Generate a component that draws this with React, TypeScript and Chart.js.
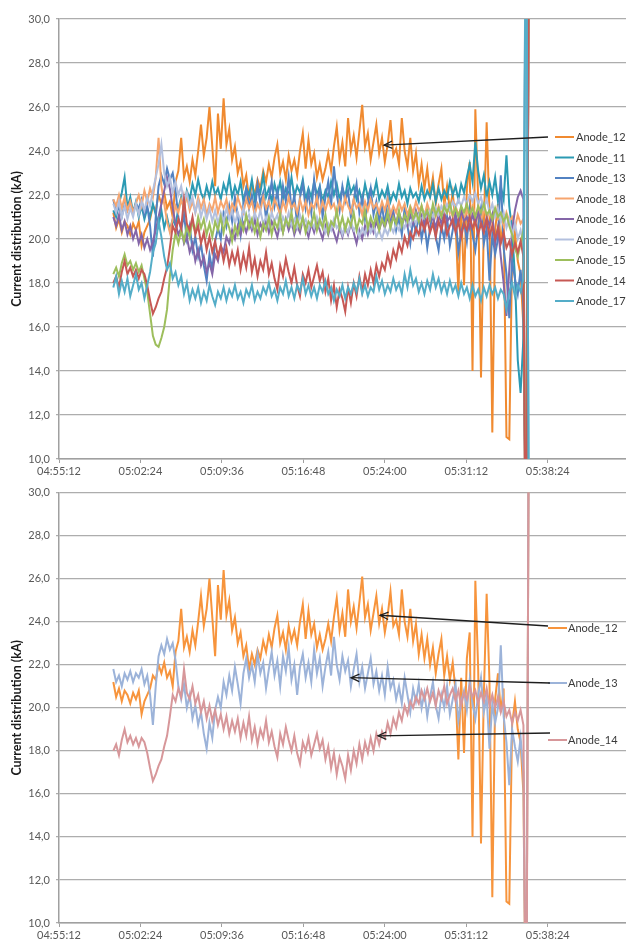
import React, { useEffect, useRef } from 'react';
import { Chart, registerables } from 'chart.js';

Chart.register(...registerables);
Chart.defaults.font.family = 'Lato, "Open Sans", sans-serif';

// ---------- axes / labels ----------
const X_TICK_LABELS = ['04:55:12', '05:02:24', '05:09:36', '05:16:48', '05:24:00', '05:31:12', '05:38:24'];
const X_AXIS_END = '05:45:19';
const SAMPLE_START = '05:00:00';
const SAMPLE_STEP_S = 15;
const Y_MIN = 10;
const Y_MAX = 30;
const Y_STEP = 2;
const Y_TITLE = 'Current distribution (kA)';

// ---------- series values (kA), one sample every 15 s from 05:00:00 ----------
const anode12 = [
  21.2, 20.5, 20.9, 20.3, 20.8, 20.6, 20.2, 20.7, 20.4, 20.8,
  19.7, 20.3, 20.6, 20.9, 21.5, 21.3, 22.0, 21.6, 22.1, 21.4,
  21.7, 21.0, 22.6, 23.1, 24.6, 22.8, 23.3, 22.6, 23.6, 22.9,
  24.0, 25.2, 23.8, 24.6, 26.0, 24.2, 22.4, 25.7, 24.1, 26.4,
  24.3, 25.0, 23.6, 24.2, 23.0, 23.5, 22.4, 22.9, 21.8, 22.5,
  22.0, 22.7, 22.3, 23.1, 22.6, 23.4, 22.8, 23.7, 24.3, 23.0,
  23.5, 22.7, 23.8, 23.1, 23.6, 22.9, 24.0, 24.8, 23.2, 24.5,
  23.4, 23.9, 22.8, 23.4, 22.7, 23.2, 23.9, 23.1, 24.2, 25.1,
  23.6, 24.4, 23.3, 25.5, 24.0, 24.7, 23.7, 24.9, 26.1, 24.2,
  24.8, 23.6, 24.4, 25.2, 23.9, 24.6, 23.5, 24.3, 25.4, 23.8,
  24.1, 23.4, 25.5, 24.0, 23.3, 24.6, 23.1, 23.9, 22.5, 23.4,
  22.3, 23.2, 22.0, 22.8, 21.6, 22.5, 23.2, 21.5, 22.4, 21.3,
  22.1, 20.8, 17.6, 21.4, 17.9, 22.3, 23.5, 14.0, 25.9, 21.8,
  13.7, 20.6, 25.3, 21.2, 11.2, 20.4, 21.6, 19.8, 20.9, 11.0,
  10.9, 19.2, 20.3, 19.0, 18.4, 16.0, 3, 38,
];
const anode11 = [
  21.3, 21.0, 21.6, 22.1, 22.8, 21.4, 21.9, 21.2, 21.7, 21.0,
  21.5, 20.9, 21.4, 21.0, 21.6, 21.1, 20.6, 21.3, 20.5, 21.0,
  20.4, 20.9, 20.6, 21.4, 21.9, 21.3, 22.2, 21.8, 22.5, 22.0,
  22.7, 22.1, 21.8, 22.4, 21.9, 22.6, 22.0, 22.3, 21.8, 22.5,
  22.1, 22.8, 21.9, 22.4, 22.0, 22.6, 21.7, 22.3, 22.0, 22.7,
  21.8, 22.4, 22.1, 22.9, 21.9, 22.3, 21.7, 22.5, 22.0, 22.6,
  21.8, 22.3, 22.0, 22.8, 21.9, 22.4, 22.1, 22.7, 21.8, 22.3,
  21.9, 22.6, 22.0, 22.4, 21.7, 22.2, 21.9, 22.6, 22.0, 22.5,
  21.8, 22.3, 21.9, 22.7, 22.1, 22.4, 21.8, 22.2, 21.7, 22.5,
  21.9, 22.3, 22.0, 22.6, 21.8, 22.2, 21.9, 22.4, 21.7, 22.1,
  21.8, 22.5, 21.9, 22.2, 21.6, 22.3, 21.9, 22.1, 21.7, 22.4,
  21.8, 22.2, 21.9, 22.5, 21.7, 22.3, 21.8, 22.2, 21.9, 22.6,
  22.0, 22.4, 21.8, 22.5, 22.1, 22.8, 23.4, 22.6, 24.4, 23.1,
  22.3, 22.9, 21.9, 22.6, 22.0, 22.8, 21.7, 22.4, 21.8, 23.8,
  21.5, 20.4, 18.3, 14.5, 13.0, 15.5, 38, 2,
];
const anode13 = [
  21.8, 21.2, 21.5, 21.0, 21.6, 21.3, 21.7, 21.2, 21.6, 21.4,
  21.8, 21.1, 21.5, 20.6, 19.2, 21.0, 22.4, 22.9, 22.5, 23.2,
  22.7, 23.0, 22.2, 21.0, 20.4, 21.1, 20.0, 20.6, 19.5, 20.1,
  19.2, 19.8, 18.8, 18.1, 19.3, 18.6, 19.9, 20.5, 20.0, 21.2,
  20.6, 21.5, 20.8, 21.9, 21.1, 20.2, 21.6, 22.3, 21.4, 22.0,
  21.2, 22.5, 21.6, 22.1, 20.9, 21.8, 22.6, 21.5, 22.2, 21.0,
  22.4, 21.7, 22.8, 21.3, 22.0, 20.6, 21.9, 22.5, 21.4, 22.1,
  21.2, 22.7, 21.6, 22.3, 21.0, 21.9, 22.6, 21.5, 23.3, 22.0,
  21.3, 22.4, 21.7, 22.2, 21.0, 21.8, 22.5, 21.2, 21.9, 20.9,
  21.6, 22.3, 21.1, 21.7, 20.8, 21.5, 20.6, 21.9, 20.9, 21.3,
  20.4, 21.0, 20.2, 21.4, 20.6, 19.8, 20.9, 20.3, 21.1, 20.0,
  20.7, 19.6, 20.5, 21.2, 20.1, 19.5, 20.6, 20.0, 21.0, 19.7,
  20.4, 21.1, 19.4, 20.3, 20.8, 19.9, 21.3, 20.2, 19.5, 20.6,
  21.4, 19.8, 20.5, 18.1, 20.2, 19.3, 20.0, 22.9, 19.6, 18.4,
  16.4, 19.0, 18.2, 17.5, 18.6, 17.0, 3, 38,
];
const anode18 = [
  21.8, 21.5, 22.0, 21.4, 21.9, 21.3, 21.7, 21.2, 21.6, 22.0,
  21.5, 22.2, 21.7, 22.3, 21.9, 22.8, 24.6, 22.4, 21.6, 20.8,
  20.3, 20.9, 21.5, 21.2, 21.8, 21.4, 22.0, 21.3, 21.7, 21.2,
  21.9, 21.4, 21.8, 21.1, 21.6, 21.3, 21.9, 21.2, 21.7, 21.4,
  21.8, 21.1, 21.6, 21.3, 21.9, 21.5, 21.2, 21.8, 21.4, 21.7,
  21.1, 21.6, 21.3, 21.9, 21.4, 21.7, 21.2, 21.8, 21.5, 21.1,
  21.7, 21.3, 21.9, 21.4, 21.6, 21.2, 21.8, 21.3, 21.7, 21.1,
  21.6, 21.4, 21.9, 21.2, 21.7, 21.3, 21.8, 21.4, 21.6, 21.1,
  21.7, 21.3, 21.9, 21.5, 21.2, 21.8, 21.4, 21.6, 21.1, 21.7,
  21.3, 21.8, 21.4, 21.6, 21.2, 21.7, 21.3, 21.8, 21.1, 21.5,
  21.2, 21.7, 21.3, 21.6, 21.1, 21.5, 21.2, 21.7, 21.3, 21.5,
  21.0, 21.6, 21.2, 21.4, 21.0, 21.5, 21.1, 21.6, 21.2, 21.4,
  21.0, 21.5, 21.1, 21.4, 20.9, 21.3, 21.0, 21.5, 21.1, 21.3,
  20.8, 21.4, 21.0, 21.2, 20.7, 21.3, 20.9, 21.1, 20.6, 21.2,
  20.8, 21.0, 20.5, 21.1, 20.7, 20.9, 3, 38,
];
const anode16 = [
  21.0, 20.6, 21.1, 20.4, 20.8, 20.2, 20.6, 20.0, 20.4, 19.8,
  20.2, 19.6, 20.0, 19.5, 19.9, 20.4, 21.0, 21.6, 22.2, 22.8,
  22.3, 21.4, 20.7, 20.2, 20.5, 19.8, 20.1, 19.4, 19.8, 19.0,
  19.5, 18.8, 19.2, 18.5, 18.9, 18.4, 19.3, 19.0, 19.7, 19.4,
  20.1, 19.8, 20.4, 20.0, 20.6, 20.2, 20.7, 20.3, 20.8, 20.4,
  20.9, 20.2, 20.7, 20.4, 20.9, 20.3, 20.8, 20.5, 20.1, 20.7,
  20.3, 20.9, 20.4, 20.8, 20.2, 20.6, 20.3, 20.9, 20.5, 20.1,
  20.7, 20.3, 20.8, 20.4, 20.0, 20.6, 20.2, 20.7, 20.3, 19.9,
  20.5, 20.1, 20.6, 20.2, 20.7, 20.3, 19.8, 20.4, 20.0, 20.6,
  20.2, 20.7, 20.3, 20.8, 20.4, 20.9, 20.5, 21.0, 20.6, 21.1,
  20.7, 21.2, 20.8, 21.0, 20.6, 21.1, 20.7, 21.3, 20.9, 21.1,
  20.6, 21.2, 20.8, 21.0, 20.5, 21.1, 20.7, 21.2, 20.8, 21.0,
  20.6, 21.1, 20.7, 21.3, 20.8, 21.0, 20.5, 21.1, 20.7, 21.2,
  20.8, 20.4, 21.0, 20.6, 21.1, 19.8, 20.5, 19.2, 18.0, 16.5,
  18.6, 20.4, 21.3, 21.9, 22.2, 21.8, 2, 38,
];
const anode19 = [
  21.6, 21.2, 21.7, 21.0, 21.5, 20.9, 21.4, 21.0, 21.6, 21.1,
  21.7, 21.3, 21.9, 21.5, 22.2, 22.8, 23.4, 24.3, 23.0, 22.4,
  22.8, 22.1, 22.6, 22.0, 22.4, 21.7, 22.1, 21.5, 21.9, 21.2,
  21.7, 21.0, 21.5, 20.9, 21.4, 20.8, 21.3, 20.7, 21.2, 20.8,
  21.4, 20.9, 21.3, 20.7, 21.2, 20.8, 21.4, 20.9, 21.1, 20.6,
  21.2, 20.8, 21.3, 20.7, 21.0, 20.6, 21.2, 20.8, 21.1, 20.5,
  21.0, 20.7, 21.2, 20.6, 20.9, 20.5, 21.1, 20.7, 20.9, 20.4,
  20.8, 20.5, 21.0, 20.6, 20.8, 20.3, 20.7, 20.4, 20.9, 20.5,
  20.7, 20.2, 20.6, 20.3, 20.8, 20.4, 20.6, 20.1, 20.5, 20.2,
  20.7, 20.3, 20.6, 20.1, 20.4, 20.0, 20.5, 20.2, 20.6, 20.3,
  20.7, 20.4, 20.8, 20.5, 20.9, 20.6, 21.0, 20.7, 21.1, 20.8,
  21.2, 20.9, 21.3, 21.0, 21.4, 21.1, 21.5, 21.2, 21.6, 21.3,
  21.7, 21.4, 21.8, 21.5, 21.9, 21.6, 22.0, 21.7, 22.1, 21.6,
  21.9, 21.4, 21.8, 21.2, 21.6, 21.0, 21.4, 20.8, 21.2, 20.5,
  20.9, 20.2, 20.7, 20.0, 20.4, 19.8, 38, 2,
];
const anode15 = [
  18.4, 18.7, 18.3, 18.9, 19.3, 18.8, 19.0, 18.6, 18.9, 18.5,
  18.8, 18.2, 17.6, 16.6, 15.6, 15.2, 15.1, 15.5, 16.0, 16.8,
  18.3, 19.5, 20.3, 19.8, 20.4, 19.9, 20.6, 20.1, 20.8, 20.3,
  21.0, 20.5, 20.9, 20.2, 20.7, 20.1, 20.8, 20.4, 21.0, 20.3,
  20.9, 20.5, 19.9, 20.6, 20.2, 20.8, 20.4, 21.1, 20.5, 20.9,
  20.3, 20.8, 20.1, 20.7, 20.4, 21.0, 20.2, 20.8, 20.5, 21.1,
  20.3, 20.9, 20.6, 21.2, 20.4, 20.9, 20.5, 21.0, 20.3, 20.8,
  20.6, 21.2, 20.4, 20.9, 20.5, 21.1, 20.3, 20.8, 20.6, 21.3,
  20.5, 21.0, 20.4, 20.9, 20.6, 21.2, 20.4, 20.9, 20.7, 21.3,
  20.5, 21.0, 20.6, 21.1, 20.4, 20.9, 20.6, 21.2, 20.5, 21.0,
  20.7, 21.3, 20.6, 21.1, 20.8, 21.4, 20.9, 21.2, 20.8, 21.5,
  21.0, 21.3, 20.9, 21.6, 21.1, 21.4, 21.0, 21.5, 21.2, 21.6,
  21.1, 21.4, 21.0, 21.5, 21.2, 21.6, 21.1, 21.4, 21.0, 21.5,
  21.2, 21.6, 21.1, 21.3, 20.9, 21.4, 21.0, 21.2, 20.8, 21.1,
  20.6, 20.2, 19.6, 19.2, 19.8, 20.4, 3, 38,
];
const anode14 = [
  18.0, 18.3, 17.8, 18.5, 19.0, 18.4, 18.7, 18.3, 18.6, 18.2,
  18.6, 18.4, 17.9, 17.2, 16.6, 16.9, 17.3, 17.6, 18.2, 18.7,
  19.6, 20.6, 20.3, 20.9, 20.5, 21.8, 20.7, 20.4, 21.0, 20.2,
  20.6, 19.8, 20.3, 19.5, 20.1, 19.4, 19.9, 19.2, 19.7, 19.0,
  19.6, 18.8, 19.4, 18.9, 19.5, 18.6, 19.3, 18.7, 19.6, 18.5,
  19.1, 18.3, 19.0, 18.6, 19.4, 18.4, 18.9, 18.2, 17.7, 18.8,
  18.3, 19.1, 18.5, 18.0, 18.7, 17.9, 17.4, 18.4, 18.0, 18.6,
  17.8, 18.3, 18.8, 18.1, 18.5, 17.6, 18.2, 17.2, 17.9, 16.9,
  17.7, 17.3, 16.7, 17.8, 17.1, 18.0, 17.4, 18.3, 17.6, 18.4,
  17.9, 18.6, 18.0, 18.8, 18.3, 18.9, 18.6, 19.3, 18.8, 19.5,
  19.1, 19.8, 19.4, 20.1, 19.7, 20.3, 20.0, 20.5, 20.2, 20.8,
  20.4, 20.9, 20.3, 20.7, 20.1, 20.8, 20.4, 21.0, 20.2, 20.6,
  20.9, 20.3, 20.8, 20.1, 20.7, 20.4, 21.0, 20.5, 20.8, 20.2,
  20.7, 20.3, 20.9, 20.1, 20.6, 20.0, 20.5, 19.8, 20.3, 19.6,
  19.9, 19.3, 19.8, 19.4, 19.9, 19.2, 2, 38,
];
const anode17 = [
  17.8, 18.3, 17.5, 18.1, 17.6, 18.2, 17.4, 17.9, 18.4, 17.7,
  18.0, 17.3, 17.9, 18.5, 19.4, 19.8, 20.8, 20.1, 19.2, 18.6,
  18.9, 18.2, 18.5, 17.9, 18.3, 17.5, 18.0, 17.2, 17.7, 17.3,
  17.8, 17.1, 17.6, 17.2, 17.9, 17.4, 17.0, 17.6, 17.3, 17.8,
  17.2, 17.7, 17.4, 17.9, 17.3, 17.6, 17.1, 17.7, 17.4, 17.9,
  17.2, 17.6, 17.3, 17.8, 17.5, 18.0, 17.4, 17.7, 17.2, 17.8,
  17.5, 18.1, 17.4, 17.8, 17.3, 17.9, 17.6, 18.2, 17.5, 17.9,
  17.4, 17.8, 17.3, 17.9, 17.6, 18.1, 17.5, 17.8, 17.2, 17.7,
  17.4, 17.9, 17.3, 17.8, 17.5, 18.0, 17.6, 18.2, 17.5, 17.9,
  17.4, 17.8, 17.6, 18.3, 17.7, 18.1, 17.5, 17.9, 17.6, 18.2,
  17.7, 18.0, 17.5, 18.4, 17.8, 18.6, 17.9, 18.2, 17.6, 18.0,
  17.5, 18.1, 17.7, 18.4, 17.8, 18.2, 17.6, 18.0, 17.5, 18.1,
  17.6, 17.9, 17.4, 18.0, 17.5, 17.8, 17.3, 17.9, 17.4, 17.7,
  17.2, 17.8, 17.4, 17.9, 17.5, 17.8, 17.3, 17.7, 17.5, 16.8,
  17.6, 18.0, 17.4, 17.9, 17.6, 18.2, 38, 2,
];

type Series = { name: string; values: number[]; color: string };
type Arrow = { time: string; value: number; fromX: number; fromY: number };
type LegendSpec = {
  box?: [number, number, number, number];
  lineX0: number;
  lineX1: number;
  textX: number;
  rows: number[];
};

const TOP_SERIES: Series[] = [
  { name: 'Anode_12', values: anode12, color: '#F08A30' },
  { name: 'Anode_11', values: anode11, color: '#2B9AB3' },
  { name: 'Anode_13', values: anode13, color: '#5282C2' },
  { name: 'Anode_18', values: anode18, color: '#F6A56E' },
  { name: 'Anode_16', values: anode16, color: '#8466A8' },
  { name: 'Anode_19', values: anode19, color: '#B3C0DE' },
  { name: 'Anode_15', values: anode15, color: '#9DBE5C' },
  { name: 'Anode_14', values: anode14, color: '#C65854' },
  { name: 'Anode_17', values: anode17, color: '#54ADC8' },
];
const BOTTOM_SERIES: Series[] = [
  { name: 'Anode_12', values: anode12, color: '#F7943C' },
  { name: 'Anode_13', values: anode13, color: '#9CB3D9' },
  { name: 'Anode_14', values: anode14, color: '#D7979A' },
];

const TOP_ARROWS: Arrow[] = [{ time: '05:23:56', value: 24.27, fromX: 548, fromY: 137 }];
const BOTTOM_ARROWS: Arrow[] = [
  { time: '05:23:35', value: 24.3, fromX: 548, fromY: 146 },
  { time: '05:21:01', value: 21.4, fromX: 550, fromY: 203 },
  { time: '05:23:24', value: 18.7, fromX: 550, fromY: 253 },
];
const TOP_LEGEND: LegendSpec = {
  box: [548, 126, 78, 186],
  lineX0: 555, lineX1: 574, textX: 576,
  rows: [137, 157.5, 178, 198.5, 219, 239.5, 260, 280.5, 301],
};
const BOTTOM_LEGEND: LegendSpec = {
  lineX0: 548, lineX1: 567, textX: 568,
  rows: [148, 203, 260],
};

const toSec = (s: string) => {
  const [h, m, x] = s.split(':').map(Number);
  return h * 3600 + m * 60 + x;
};
const fmtTime = (v: number) => {
  const h = Math.floor(v / 3600);
  const m = Math.floor((v % 3600) / 60);
  const s = Math.round(v % 60);
  return [h, m, s].map((n) => String(n).padStart(2, '0')).join(':');
};

const TICK_FONT = { size: 11 };
const TICK_COLOR = '#595959';
const GRID_COLOR = '#ADADAD';

function Panel(props: {
  series: Series[];
  height: number;
  padTop: number;
  xAxisH: number;
  legend: LegendSpec;
  arrows: Arrow[];
}) {
  const ref = useRef<HTMLCanvasElement>(null);
  useEffect(() => {
    const { series, padTop, xAxisH, legend, arrows } = props;
    const start = toSec(SAMPLE_START);
    const overlay = {
      id: 'overlay',
      afterDraw(chart: any) {
        const ctx = chart.ctx as CanvasRenderingContext2D;
        ctx.save();
        if (legend.box) {
          ctx.fillStyle = '#ffffff';
          const [bx, by, bw, bh] = legend.box;
          ctx.fillRect(bx, by, bw, bh);
        }
        ctx.font = '11px Lato, "Open Sans", sans-serif';
        ctx.textBaseline = 'middle';
        ctx.textAlign = 'left';
        series.forEach((s, k) => {
          const y = legend.rows[k];
          ctx.strokeStyle = s.color;
          ctx.lineWidth = 2;
          ctx.beginPath();
          ctx.moveTo(legend.lineX0, y);
          ctx.lineTo(legend.lineX1, y);
          ctx.stroke();
          ctx.fillStyle = '#3A3A3A';
          ctx.fillText(s.name, legend.textX, y + 0.5);
        });
        const xs = chart.scales.x;
        const ys = chart.scales.y;
        arrows.forEach((a) => {
          const tx = xs.getPixelForValue(toSec(a.time));
          const ty = ys.getPixelForValue(a.value);
          ctx.strokeStyle = '#1E1E1E';
          ctx.lineWidth = 1.3;
          ctx.beginPath();
          ctx.moveTo(a.fromX, a.fromY);
          ctx.lineTo(tx, ty);
          ctx.stroke();
          const ang = Math.atan2(a.fromY - ty, a.fromX - tx);
          const L = 9;
          ctx.beginPath();
          ctx.moveTo(tx + L * Math.cos(ang + 0.42), ty + L * Math.sin(ang + 0.42));
          ctx.lineTo(tx, ty);
          ctx.lineTo(tx + L * Math.cos(ang - 0.42), ty + L * Math.sin(ang - 0.42));
          ctx.stroke();
        });
        ctx.restore();
      },
    };

    const chart = new Chart(ref.current as HTMLCanvasElement, {
      type: 'line',
      data: {
        datasets: series.map((s, k) => ({
          label: s.name,
          data: s.values.map((v, i) => ({ x: start + i * SAMPLE_STEP_S, y: v })),
          borderColor: s.color,
          backgroundColor: s.color,
          borderWidth: 2,
          pointRadius: 0,
          tension: 0,
          fill: false,
          order: series.length - k,
        })),
      },
      options: {
        responsive: false,
        animation: false,
        events: [],
        layout: { padding: { top: padTop, left: 0, right: 0, bottom: 0 } },
        plugins: { legend: { display: false }, tooltip: { enabled: false } },
        scales: {
          x: {
            type: 'linear',
            min: toSec(X_TICK_LABELS[0]),
            max: toSec(X_AXIS_END),
            afterBuildTicks: (sc: any) => {
              sc.ticks = X_TICK_LABELS.map((l) => ({ value: toSec(l) }));
            },
            afterFit: (sc: any) => {
              sc.height = xAxisH;
            },
            grid: { drawOnChartArea: false, drawTicks: true, tickLength: 4, color: '#A0A0A0' },
            border: { color: '#A0A0A0', width: 1.5 },
            ticks: {
              autoSkip: false,
              maxRotation: 0,
              padding: 2,
              font: TICK_FONT,
              color: TICK_COLOR,
              callback: (v: any) => fmtTime(Number(v)),
            },
          },
          y: {
            min: Y_MIN,
            max: Y_MAX,
            afterFit: (sc: any) => {
              sc.width = 59;
            },
            grid: { color: GRID_COLOR, lineWidth: 1.3, tickLength: 3 },
            border: { color: '#A0A0A0', width: 1.5 },
            ticks: {
              stepSize: Y_STEP,
              padding: 6,
              font: TICK_FONT,
              color: TICK_COLOR,
              callback: (v: any) => Number(v).toFixed(1).replace('.', ','),
            },
            title: {
              display: true,
              text: Y_TITLE,
              color: '#1A1A1A',
              font: { size: 12.5, weight: 'bold' },
              padding: { top: 9, bottom: 0 },
            },
          },
        },
      },
      plugins: [overlay],
    } as any);
    return () => chart.destroy();
  }, []);
  return <canvas ref={ref} width={626} height={props.height} style={{ display: 'block' }} />;
}

export default function App() {
  return (
    <div
      style={{
        position: 'absolute',
        left: 0,
        top: 0,
        width: 626,
        height: 943,
        background: '#ffffff',
        overflow: 'hidden',
      }}
    >
      <Panel series={TOP_SERIES} height={480} padTop={19} xAxisH={21} legend={TOP_LEGEND} arrows={TOP_ARROWS} />
      <Panel series={BOTTOM_SERIES} height={463} padTop={8} xAxisH={20} legend={BOTTOM_LEGEND} arrows={BOTTOM_ARROWS} />
    </div>
  );
}
